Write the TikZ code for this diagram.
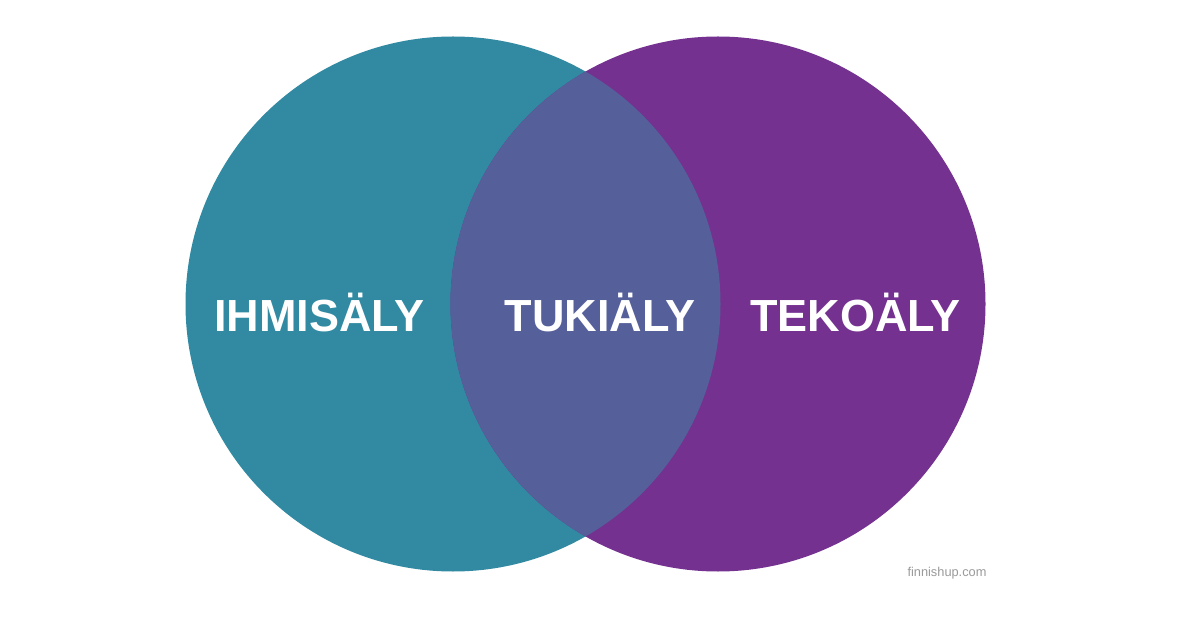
\documentclass[tikz,border=0pt]{standalone}
\usepackage{fontspec}
\setmainfont{Liberation Sans}
\definecolor{teal1}{HTML}{318AA2}
\definecolor{purp1}{HTML}{74318F}
\definecolor{lens1}{HTML}{555F9A}
\definecolor{gray1}{HTML}{9A9A9A}
\begin{document}
\begin{tikzpicture}[x=1pt,y=-1pt,
  lbl/.style={text=white,font=\bfseries\fontsize{45}{52}\selectfont,anchor=base},
  mark1/.style={text=gray1,font=\fontsize{12.8}{15}\selectfont,anchor=base}]
\useasboundingbox (0,0) rectangle (1200,628);
\fill[white] (0,0) rectangle (1200,628);
\coordinate (cl) at (453,304);
\coordinate (cr) at (718,304);
\fill[teal1] (cl) circle[radius=267.5];
\fill[purp1] (cr) circle[radius=267.5];
\begin{scope}
\clip (cl) circle[radius=267.5];
\fill[lens1] (cr) circle[radius=267.5];
\end{scope}
\node[lbl] (a) at (319.5,332) {IHMISÄLY};
\node[lbl] (b) at (600,332) {TUKIÄLY};
\node[lbl] (c) at (855.5,332) {TEKOÄLY};
\node[mark1] (w) at (947,576) {finnishup.com};
\end{tikzpicture}
\end{document}
